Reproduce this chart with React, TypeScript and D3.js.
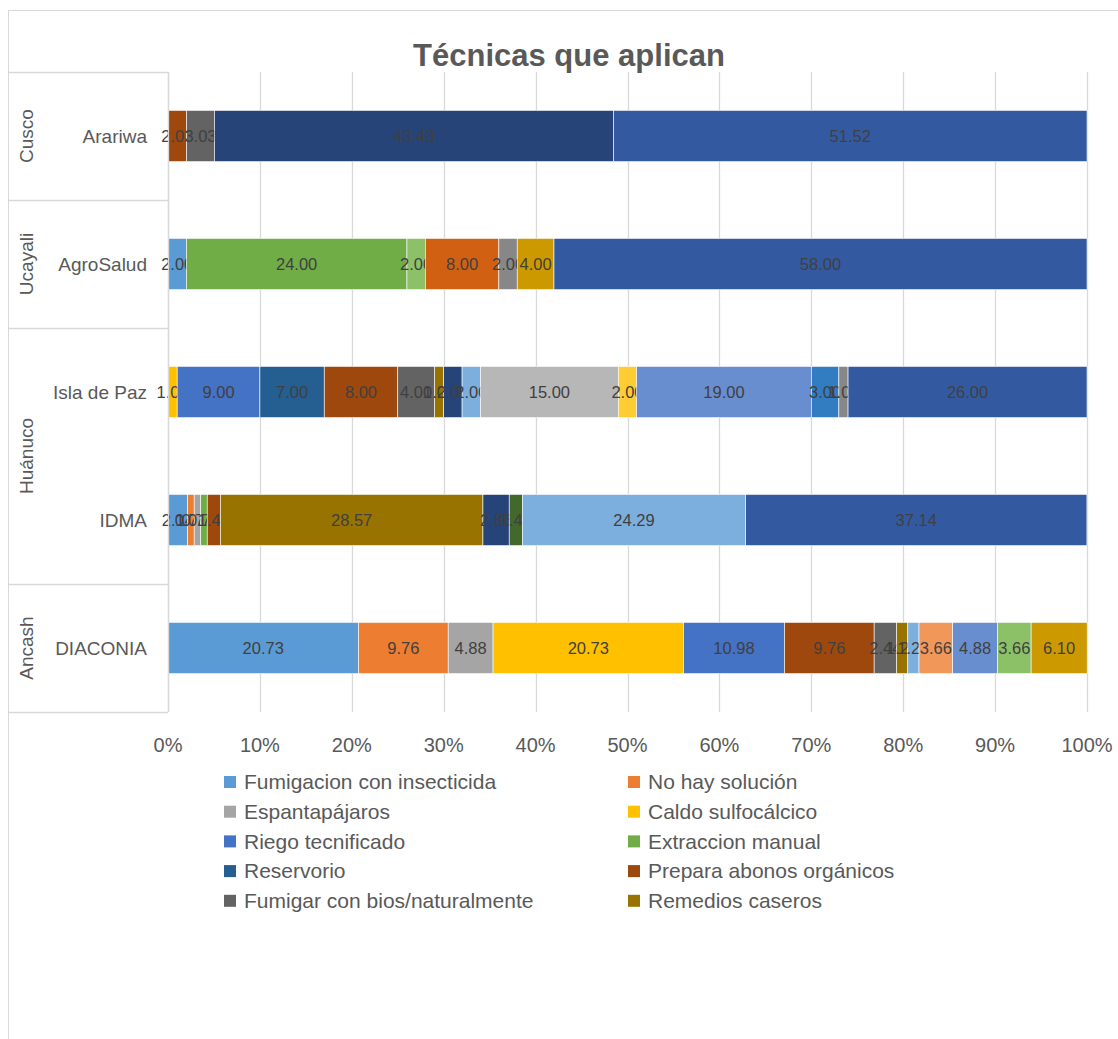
import { useEffect, useRef } from "react";
import * as d3 from "d3";

// organizations, top to bottom
const orgs = ["Arariwa", "AgroSalud", "Isla de Paz", "IDMA", "DIACONIA"];

// region groups of the second category level
const regions = ["Cusco", "Ucayali", "Huánuco", "Ancash"];
const regionSpans = [1, 1, 2, 1];

// names shown in the legend (Excel cut it after ten entries)
const legendNames = [
  "Fumigacion con insecticida",
  "No hay solución",
  "Espantapájaros",
  "Caldo sulfocálcico",
  "Riego tecnificado",
  "Extraccion manual",
  "Reservorio",
  "Prepara abonos orgánicos",
  "Fumigar con bios/naturalmente",
  "Remedios caseros",
];

// Office palette in series order
const colors = [
  "#5B9BD5", "#ED7D31", "#A5A5A5", "#FFC000", "#4472C4", "#70AD47",
  "#255E91", "#9E480E", "#636363", "#997300", "#264478", "#43682B",
  "#7CAFDD", "#F1975A", "#B7B7B7", "#FFCD33", "#698ED0", "#8CC168",
  "#327DC2", "#D26012", "#878787", "#CC9A00", "#335AA1",
];

// one row per series, values in the order of orgs
const seriesValues = [
  [0, 2.0, 0, 2.14, 20.73],
  [0, 0, 0, 0.71, 9.76],
  [0, 0, 0, 0.71, 4.88],
  [0, 0, 1.0, 0, 20.73],
  [0, 0, 9.0, 0, 10.98],
  [0, 24.0, 0, 0.71, 0],
  [0, 0, 7.0, 0, 0],
  [2.02, 0, 8.0, 1.43, 9.76],
  [3.03, 0, 4.0, 0, 2.44],
  [0, 0, 1.0, 28.57, 1.22],
  [43.43, 0, 2.0, 2.86, 0],
  [0, 0, 0, 1.43, 0],
  [0, 0, 2.0, 24.29, 1.22],
  [0, 0, 0, 0, 3.66],
  [0, 0, 15.0, 0, 0],
  [0, 0, 2.0, 0, 0],
  [0, 0, 19.0, 0, 4.88],
  [0, 2.0, 0, 0, 3.66],
  [0, 0, 3.0, 0, 0],
  [0, 8.0, 0, 0, 0],
  [0, 2.0, 1.0, 0, 0],
  [0, 4.0, 0, 0, 6.1],
  [51.52, 58.0, 26.0, 37.14, 0],
];

const xTicks = [0, 10, 20, 30, 40, 50, 60, 70, 80, 90, 100];

const App = () => {
  const ref = useRef<HTMLDivElement>(null);

  useEffect(() => {
    const width = 1118;
    const height = 1039;
    const font = "'Liberation Sans', Arial, sans-serif";
    const textColor = "#595959";
    const gridColor = "#D9D9D9";

    const plotLeft = 168;
    const plotRight = 1087;
    const plotTop = 72;
    const plotBottom = 712;

    const x = d3.scaleLinear([0, 100], [plotLeft, plotRight]);
    const y = d3
      .scaleBand(orgs, [plotTop, plotBottom])
      .paddingInner(0.6)
      .paddingOuter(0.3);

    const svg = d3
      .create("svg")
      .attr("width", width)
      .attr("height", height)
      .attr("viewBox", [0, 0, width, height])
      .attr("style", "position:absolute;left:0;top:0;background:#fff")
      .attr("font-family", font);

    // chart area border
    svg.append("rect")
      .attr("x", 8.5)
      .attr("y", 10.5)
      .attr("width", 1140)
      .attr("height", 1060)
      .attr("fill", "#fff")
      .attr("stroke", gridColor);

    // title
    svg.append("text")
      .attr("x", 569)
      .attr("y", 66)
      .attr("text-anchor", "middle")
      .attr("font-size", 31)
      .attr("font-weight", "bold")
      .attr("fill", textColor)
      .text("Técnicas que aplican");

    // vertical gridlines
    svg.append("g")
      .selectAll("line")
      .data(xTicks)
      .join("line")
      .attr("x1", (d) => Math.round(x(d)) + 0.5)
      .attr("x2", (d) => Math.round(x(d)) + 0.5)
      .attr("y1", plotTop)
      .attr("y2", plotBottom)
      .attr("stroke", gridColor)
      .attr("stroke-width", 1.3);

    // x tick labels
    svg.append("g")
      .selectAll("text")
      .data(xTicks)
      .join("text")
      .attr("x", (d) => x(d))
      .attr("y", 752)
      .attr("text-anchor", "middle")
      .attr("font-size", 20)
      .attr("fill", textColor)
      .text((d) => d + "%");

    // category separators for the region groups
    const step = y.step();
    let acc = 0;
    const bounds = [0];
    regionSpans.forEach((s) => {
      acc += s;
      bounds.push(acc);
    });
    svg.append("g")
      .selectAll("line")
      .data(bounds)
      .join("line")
      .attr("x1", 8)
      .attr("x2", plotLeft)
      .attr("y1", (d) => Math.round(plotTop + d * step) + 0.5)
      .attr("y2", (d) => Math.round(plotTop + d * step) + 0.5)
      .attr("stroke", gridColor)
      .attr("stroke-width", 1.3);

    // region labels, rotated
    svg.append("g")
      .selectAll("text")
      .data(regions)
      .join("text")
      .attr("transform", (d, i) => {
        const cy = plotTop + ((bounds[i] + bounds[i + 1]) / 2) * step;
        return `translate(33,${cy}) rotate(-90)`;
      })
      .attr("text-anchor", "middle")
      .attr("font-size", 19)
      .attr("fill", textColor)
      .text((d) => d);

    // org labels
    svg.append("g")
      .selectAll("text")
      .data(orgs)
      .join("text")
      .attr("x", 147)
      .attr("y", (d) => y(d)! + y.bandwidth() / 2)
      .attr("dy", "0.35em")
      .attr("text-anchor", "end")
      .attr("font-size", 19)
      .attr("fill", textColor)
      .text((d) => d);

    // stacked segments
    const table = orgs.map((org, i) => {
      const row: any = { org };
      seriesValues.forEach((vals, s) => (row["s" + s] = vals[i]));
      return row;
    });
    const keys = seriesValues.map((_, s) => "s" + s);
    const stacked = d3.stack().keys(keys)(table);

    const groups = svg.append("g")
      .selectAll("g")
      .data(stacked)
      .join("g")
      .attr("fill", (d, i) => colors[i]);

    groups.selectAll("rect")
      .data((d) => d.filter((seg) => seg[1] - seg[0] > 0))
      .join("rect")
      .attr("x", (d) => x(d[0]))
      .attr("y", (d) => y(d.data.org as string)!)
      .attr("width", (d) => x(d[1]) - x(d[0]))
      .attr("height", y.bandwidth())
      .attr("stroke", "#fff")
      .attr("stroke-width", 0.6);

    // axis line
    svg.append("line")
      .attr("x1", plotLeft + 0.5)
      .attr("x2", plotLeft + 0.5)
      .attr("y1", plotTop)
      .attr("y2", plotBottom)
      .attr("stroke", gridColor)
      .attr("stroke-width", 1.3);

    // data labels
    groups.selectAll("text")
      .data((d) => d.filter((seg) => seg[1] - seg[0] > 0))
      .join("text")
      .attr("x", (d) => x((d[0] + d[1]) / 2))
      .attr("y", (d) => y(d.data.org as string)! + y.bandwidth() / 2)
      .attr("dy", "0.35em")
      .attr("text-anchor", "middle")
      .attr("font-size", 16.5)
      .attr("fill", "#404040")
      .text((d) => (d[1] - d[0]).toFixed(2));

    // legend, two columns
    const legend = svg.append("g")
      .selectAll("g")
      .data(legendNames)
      .join("g")
      .attr("transform", (d, i) => `translate(${i % 2 === 0 ? 224 : 628},${782 + Math.floor(i / 2) * 29.7})`);

    legend.append("rect")
      .attr("x", 0)
      .attr("y", -6)
      .attr("width", 12)
      .attr("height", 12)
      .attr("fill", (d, i) => colors[i]);

    legend.append("text")
      .attr("x", 20)
      .attr("dy", "0.35em")
      .attr("font-size", 21)
      .attr("fill", textColor)
      .text((d) => d);

    if (ref.current) {
      ref.current.innerHTML = "";
      ref.current.appendChild(svg.node()!);
    }
  }, []);

  return <div ref={ref}></div>;
};

export default App;
